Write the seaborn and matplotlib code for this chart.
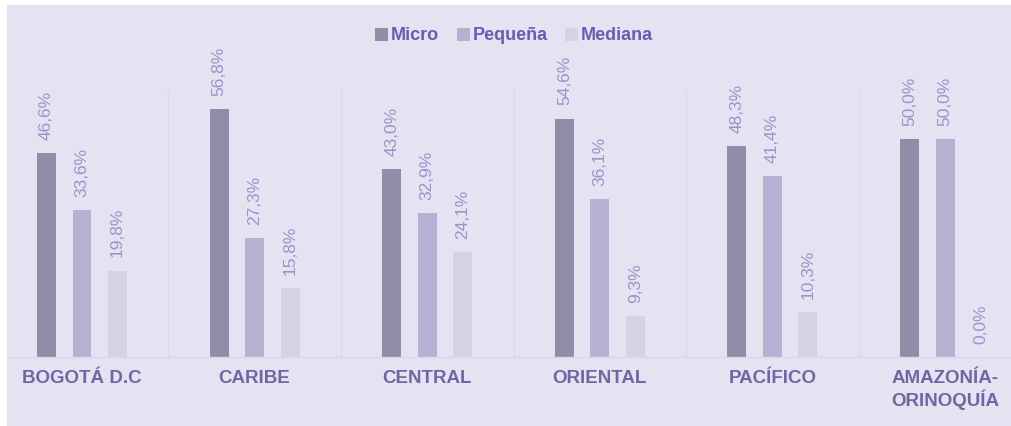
import matplotlib
matplotlib.use('Agg')

import matplotlib.pyplot as plt
from matplotlib.patches import Rectangle
import seaborn as sns
import pandas as pd

# datos
REGIONES = ['BOGOTÁ D.C', 'CARIBE', 'CENTRAL', 'ORIENTAL', 'PACÍFICO', 'AMAZONÍA-\nORINOQUÍA']
TAMANOS = ['Micro', 'Pequeña', 'Mediana']
micro = [46.6, 56.8, 43.0, 54.6, 48.3, 50.0]
pequena = [33.6, 27.3, 32.9, 36.1, 41.4, 50.0]
mediana = [19.8, 15.8, 24.1, 9.3, 10.3, 0.0]

COLORES = ['#8e88ac', '#b2abd8', '#d3cfe5']
FONDO = '#e5e2f2'
COLOR_VALOR = '#9b94c8'
COLOR_REGION = '#6f67a3'
COLOR_LEYENDA = '#6a5bb5'

df = pd.DataFrame({
    'region': REGIONES * 3,
    'tamano': [t for t in TAMANOS for _ in REGIONES],
    'valor': micro + pequena + mediana,
})

plt.rcParams['font.family'] = ['Liberation Sans', 'DejaVu Sans']

W, H = 1012, 426
fig = plt.figure(figsize=(W / 100, H / 100), dpi=100, facecolor='white')
# franja inferior del fondo (debajo del eje)
fig.patches.append(Rectangle((7 / W, 0), 1 - 7 / W, 69 / H, transform=fig.transFigure,
                             facecolor=FONDO, edgecolor='none', zorder=-1))
ax = fig.add_axes([7 / W, 69 / H, 1 - 7 / W, (357 - 5) / H])
ax.set_facecolor(FONDO)

sns.barplot(data=df, x='region', y='valor', hue='tamano', order=REGIONES, hue_order=TAMANOS,
            palette=COLORES, width=0.617, gap=0.465, errorbar=None, linewidth=0, ax=ax)

for cont in ax.containers:
    ax.bar_label(cont, labels=[f'{v:.1f}%'.replace('.', ',') for v in cont.datavalues],
                 rotation=90, padding=9.4, color=COLOR_VALOR, fontsize=12.5)

# separadores entre regiones
for i in range(len(REGIONES) - 1):
    ax.plot([i + 0.5, i + 0.5], [0, 61.2], color='#dbd8ea', lw=1, zorder=0)

ax.set_xlim(-0.4345, 5.388)
ax.set_ylim(0, 80.6)
ax.set_xlabel('')
ax.set_ylabel('')
ax.set_yticks([])
ax.tick_params(axis='x', length=0, pad=9.7)
for lab in ax.get_xticklabels():
    lab.set_fontweight('bold')
    lab.set_fontsize(13.5)
    lab.set_color(COLOR_REGION)
    lab.set_linespacing(1.1)
for s in ['top', 'left', 'right']:
    ax.spines[s].set_visible(False)
ax.spines['bottom'].set_color('#dad7ea')
ax.spines['bottom'].set_linewidth(1)

handles, labels = ax.get_legend_handles_labels()
ax.legend(handles, labels, loc='center', bbox_to_anchor=(0.5045, 0.912), ncol=3,
          frameon=False, prop={'weight': 'bold', 'size': 13}, labelcolor=COLOR_LEYENDA,
          handlelength=0.72, handleheight=0.72, handletextpad=0.15, columnspacing=1.0)

fig.savefig('out.png', dpi=100, facecolor='white')
